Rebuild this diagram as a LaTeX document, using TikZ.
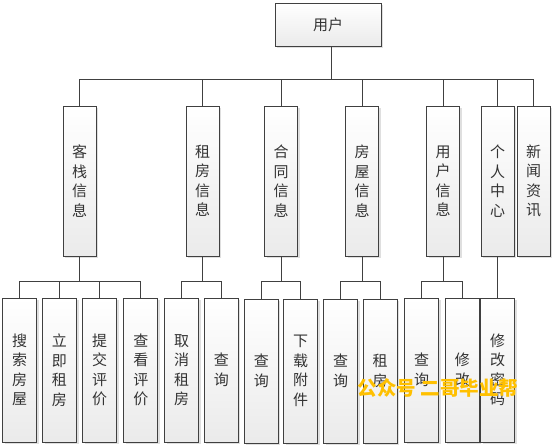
\documentclass[tikz,border=0pt]{standalone}
\usepackage{fontspec}
\newfontfamily\cjk{Noto Sans CJK SC}
\usepackage{tikz}
\usetikzlibrary{shadows}
\definecolor{wmyellow}{RGB}{255,192,0}

\begin{document}
\begin{tikzpicture}[
    x=1pt, y=-1pt,
    box/.style={draw=black!75, line width=0.9pt, top color=white, bottom color=black!8,
        drop shadow={shadow xshift=2pt, shadow yshift=-2pt, fill=black!25, opacity=0.5},
        inner sep=0pt, align=center, text=black!80,
        font=\cjk\fontsize{15}{19.5}\selectfont},
    root/.style={box, minimum width=106pt, minimum height=43pt},
    module/.style={box, minimum width=33pt, minimum height=150pt},
    leaf/.style={box, minimum width=34pt, minimum height=144pt},
    link/.style={draw=black!75, line width=0.9pt},
    wmtext/.style={text=wmyellow, font=\cjk\bfseries\fontsize{19.5}{22}\selectfont, inner sep=0pt}
]
    \useasboundingbox (0,0) rectangle (555,446);

    % ==================== ROOT ====================
    \node[root] (user) at (328,24.5) {用户};
    \coordinate (usr) at ([xshift=3pt]user.south);

    % ==================== MODULES ====================
    \node[module] (kz) at (79.5,181) {客\\栈\\信\\息};
    \node[module] (zf) at (202.5,181) {租\\房\\信\\息};
    \node[module] (ht) at (281,181) {合\\同\\信\\息};
    \node[module] (fw) at (362,181) {房\\屋\\信\\息};
    \node[module] (yh) at (443,181) {用\\户\\信\\息};
    \node[module] (gr) at (497.5,181) {个\\人\\中\\心};
    \node[module] (xw) at (533.5,181) {新\\闻\\资\\讯};

    % ==================== LEAVES ====================
    % under kz
    \node[leaf] (ss) at (19.7,370) {搜\\索\\房\\屋};
    \node[leaf] (lj) at (59.5,370) {立\\即\\租\\房};
    \node[leaf] (tj) at (99.5,370) {提\\交\\评\\价};
    \node[leaf] (ck) at (140.8,370) {查\\看\\评\\价};
    % under zf
    \node[leaf] (qx) at (181.7,370) {取\\消\\租\\房};
    \node[leaf] (cx1) at (221.3,370) {查\\询};
    % under ht
    \node[leaf] (cx2) at (261.3,371) {查\\询};
    \node[leaf] (xz) at (300.5,371) {下\\载\\附\\件};
    % under fw
    \node[leaf] (cx3) at (340.5,371) {查\\询};
    \node[leaf] (zf2) at (380,371) {租\\房};
    % under yh
    \node[leaf] (cx4) at (421.5,370) {查\\询};
    \node[leaf] (xg) at (462.3,370) {修\\改};
    % under gr
    \node[leaf] (xgmm) at (497.5,370) {修\\改\\密\\码};

    % ==================== CONNECTORS ====================
    % root to modules
    \draw[link] (usr) -- ++(0,33) -| (kz.north);
    \draw[link] (usr) -- ++(0,33) -| (zf.north);
    \draw[link] (usr) -- ++(0,33) -| (ht.north);
    \draw[link] (usr) -- ++(0,33) -| (fw.north);
    \draw[link] (usr) -- ++(0,33) -| (yh.north);
    \draw[link] (usr) -- ++(0,33) -| (gr.north);
    \draw[link] (usr) -- ++(0,33) -| (xw.north);

    % modules to leaves
    \draw[link] (kz.south) -- ++(0,25) -| (ss.north);
    \draw[link] (kz.south) -- ++(0,25) -| (lj.north);
    \draw[link] (kz.south) -- ++(0,25) -| (tj.north);
    \draw[link] (kz.south) -- ++(0,25) -| (ck.north);
    \draw[link] (zf.south) -- ++(0,25) -| (qx.north);
    \draw[link] (zf.south) -- ++(0,25) -| (cx1.north);
    \draw[link] (ht.south) -- ++(0,25) -| (cx2.north);
    \draw[link] (ht.south) -- ++(0,25) -| (xz.north);
    \draw[link] (fw.south) -- ++(0,25) -| (cx3.north);
    \draw[link] (fw.south) -- ++(0,25) -| (zf2.north);
    \draw[link] (yh.south) -- ++(0,25) -| (cx4.north);
    \draw[link] (yh.south) -- ++(0,25) -| (xg.north);
    \draw[link] (gr.south) -- (xgmm.north);

    % ==================== WATERMARK ====================
    \node[wmtext] (wm) at (438,388) {公众号 二哥毕业帮};
\end{tikzpicture}
\end{document}
